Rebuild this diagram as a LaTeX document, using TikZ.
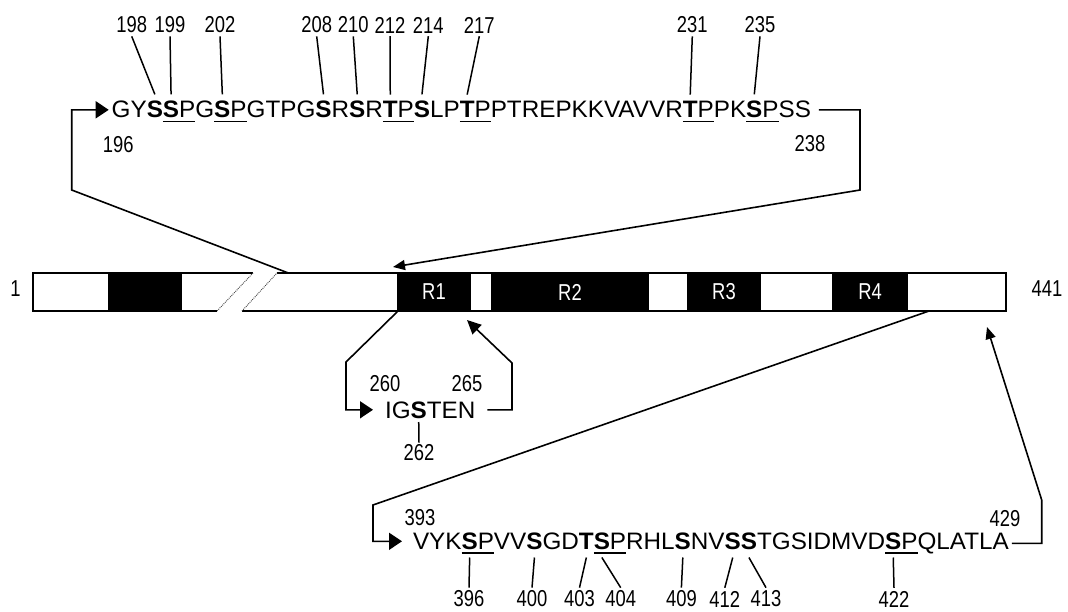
\documentclass[tikz,border=0pt]{standalone}
\usepackage{fontspec}
\setmainfont{Liberation Sans}
\newfontfamily\seqfont[FakeStretch=1.02]{Liberation Sans}
\newfontfamily\numfont[FakeStretch=0.8]{Liberation Sans}
\usetikzlibrary{arrows.meta}
\begin{document}
\begin{tikzpicture}[x=1pt,y=-1pt,
  res/.style={inner sep=0pt,outer sep=0pt,anchor=base west,font=\fontsize{23.8}{28}\seqfont},
  num/.style={inner sep=0pt,font=\fontsize{23}{27}\numfont},
  tick/.style={line width=1.5pt},
  conn/.style={line width=1.6pt},
  bigtip/.style={-{Triangle[length=13pt,width=17pt]}},
  smalltip/.style={-{Triangle[length=12pt,width=10pt]}},
  ul/.style={line width=1.4pt},
  dom/.style={fill=black,draw=black,line width=1.5pt,text=white,minimum height=38pt,inner sep=0pt,font=\fontsize{23}{27}\numfont},
  barline/.style={line width=1.6pt},
  brkline/.style={line width=0.9pt,densely dotted,black!75}
]
\useasboundingbox (0,0) rectangle (1068,612);
% ---- protein bar ----
\fill[white] (33,273) -- (253,273) -- (217,311) -- (33,311) -- cycle;
\fill[black] (108,273) rectangle (182,311);
\draw[barline] (217,311) -- (33,311) -- (33,273) -- (253,273);
\draw[brkline] (253,273) -- (217,311);
\draw[barline] (277,273) -- (1006,273) -- (1006,311) -- (242,311);
\draw[brkline] (242,311) -- (277,273);
\node[dom,minimum width=72pt] (R1) at (434,292) {R1};
\node[dom,minimum width=156pt] (R2) at (570,292) {R2};
\node[dom,minimum width=72pt] (R3) at (724,292) {R3};
\node[dom,minimum width=74pt] (R4) at (870,292) {R4};
\node[num] (n1) at (15.5,289) {1};
\node[num] (n441) at (1047,289) {441};
% ---- top sequence ----
\node[res] (t196) at (111.7,118) {GY};
\node[res] (t198) at (t196.base east) {\bfseries S};
\node[res] (t199) at (t198.base east) {\bfseries S};
\node[res] (t200) at (t199.base east) {P};
\node[res] (t201) at (t200.base east) {G};
\node[res] (t202) at (t201.base east) {\bfseries S};
\node[res] (t203) at (t202.base east) {P};
\node[res] (t204) at (t203.base east) {GTPG};
\node[res] (t208) at (t204.base east) {\bfseries S};
\node[res] (t209) at (t208.base east) {R};
\node[res] (t210) at (t209.base east) {\bfseries S};
\node[res] (t211) at (t210.base east) {R};
\node[res] (t212) at (t211.base east) {\bfseries T};
\node[res] (t213) at (t212.base east) {P};
\node[res] (t214) at (t213.base east) {\bfseries S};
\node[res] (t215) at (t214.base east) {LP};
\node[res] (t217) at (t215.base east) {\bfseries T};
\node[res] (t218) at (t217.base east) {P};
\node[res] (t219) at (t218.base east) {PTREPKKVAVVR};
\node[res] (t231) at (t219.base east) {\bfseries T};
\node[res] (t232) at (t231.base east) {P};
\node[res] (t233) at (t232.base east) {PK};
\node[res] (t235) at (t233.base east) {\bfseries S};
\node[res] (t236) at (t235.base east) {P};
\node[res] (t237) at (t236.base east) {SS};
\foreach \a/\b in {t199/t200,t202/t203,t212/t213,t217/t218,t231/t232,t235/t236}
  \draw[ul] ([yshift=-3.5pt]\a.base west) -- ([yshift=-3.5pt]\b.base east);
\foreach \n/\x in {198/131.7,199/170,202/220,208/316.7,210/353.3,212/390,214/428.3,217/479.3,231/692.3,235/760}{
  \node[num] (l\n) at (\x,25) {\n};
  \draw[tick] ([yshift=-3pt]l\n.south) -- ([yshift=7pt]t\n.north);
}
\node[num] (l196) at (118.3,145) {196};
\node[num] (l238) at (810,144) {238};
% ---- middle sequence ----
\node[res] (m260) at (385,418) {IG};
\node[res] (m262) at (m260.base east) {\bfseries S};
\node[res] (m263) at (m262.base east) {TEN};
\node[num] (l260) at (385,384) {260};
\node[num] (l265) at (467,384) {265};
\node[num] (l262) at (419,453) {262};
\draw[tick] ([yshift=-4pt]m262.base) -- ([yshift=2pt]l262.north);
% ---- bottom sequence ----
\node[res] (b393) at (413,549.5) {VYK};
\node[res] (b396) at (b393.base east) {\bfseries S};
\node[res] (b397) at (b396.base east) {P};
\node[res] (b398) at (b397.base east) {VV};
\node[res] (b400) at (b398.base east) {\bfseries S};
\node[res] (b401) at (b400.base east) {GD};
\node[res] (b403) at (b401.base east) {\bfseries T};
\node[res] (b404) at (b403.base east) {\bfseries S};
\node[res] (b405) at (b404.base east) {P};
\node[res] (b406) at (b405.base east) {RHL};
\node[res] (b409) at (b406.base east) {\bfseries S};
\node[res] (b410) at (b409.base east) {NV};
\node[res] (b412) at (b410.base east) {\bfseries S};
\node[res] (b413) at (b412.base east) {\bfseries S};
\node[res] (b414) at (b413.base east) {TGSIDMVD};
\node[res] (b422) at (b414.base east) {\bfseries S};
\node[res] (b423) at (b422.base east) {P};
\node[res] (b424) at (b423.base east) {QLATLA};
\foreach \a/\b in {b396/b397,b404/b405,b422/b423}
  \draw[ul] ([yshift=-3.5pt]\a.base west) -- ([yshift=-3.5pt]\b.base east);
\foreach \n/\x in {396/469,400/532,403/579.5,404/620.7,409/681.4,412/724.8,413/766,422/894}{
  \node[num] (l\n) at (\x,599) {\n};
  \draw[tick] ([yshift=-8pt]b\n.base) -- ([yshift=3pt]l\n.north);
}
\node[num] (l393) at (420,517.5) {393};
\node[num] (l429) at (1005,519) {429};
% ---- connectors ----
\coordinate (brk) at (288.3,273);
\coordinate (a1) at (71.7,190);
\draw[conn,bigtip] (brk) -- (a1) |- ([xshift=-3pt]t196.west);
\coordinate (b1) at (860,190);
\coordinate (b2) at (393,267);
\draw[conn,smalltip] ([xshift=8pt]t237.east) -| (b1) -- (b2);
\coordinate (c1) at (346,362);
\draw[conn,bigtip] (R1.south west) -- (c1) |- ([xshift=-12pt]m260.west);
\coordinate (d1) at (512,363);
\coordinate (d2) at (467,320);
\draw[conn,-{Triangle[length=14pt,width=13pt]}] ([xshift=12pt]m263.east) -| (d1) -- (d2);
\coordinate (e0) at (929,311);
\coordinate (e1) at (373,505);
\draw[conn,bigtip] (e0) -- (e1) |- ([xshift=-11pt]b393.west);
\coordinate (f1) at (1041.7,500);
\coordinate (f2) at (987,327);
\draw[conn,smalltip] ([xshift=3pt]b424.east) -| (f1) -- (f2);
\end{tikzpicture}
\end{document}
